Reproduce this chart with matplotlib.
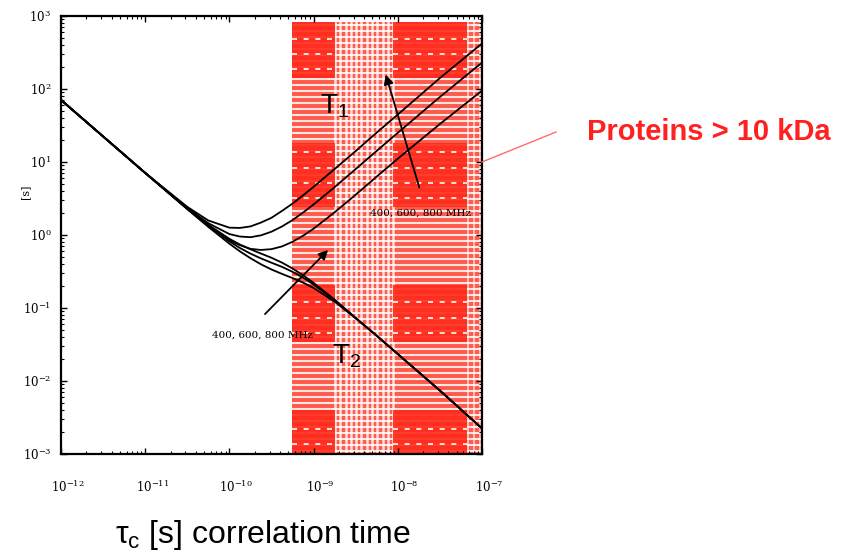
import numpy as np
import matplotlib
matplotlib.use("Agg")
import matplotlib.pyplot as plt
import matplotlib.transforms as mtransforms
from matplotlib.lines import Line2D
from matplotlib.patches import Rectangle

plt.rcParams["font.family"] = ["Liberation Sans", "DejaVu Sans"]
plt.rcParams["mathtext.fontset"] = "custom"
plt.rcParams["mathtext.rm"] = "Liberation Sans"
plt.rcParams["mathtext.it"] = "Liberation Sans:italic"
plt.rcParams["mathtext.default"] = "regular"

# correlation time [s]
tau = [1e-12, 3.16e-12, 1e-11, 3.16e-11, 5.62e-11, 1e-10, 1.33e-10, 1.78e-10,
       2.37e-10, 3.16e-10, 4.22e-10, 5.62e-10, 7.5e-10, 1e-9, 1.78e-9, 3.16e-9,
       5.62e-9, 1e-8, 3.16e-8, 1e-7]

# T1 [s] (800, 600, 400 MHz)
t1_800 = [70.8, 22.4, 7.08, 2.43, 1.58, 1.26, 1.25, 1.31, 1.48, 1.72, 2.14, 2.69,
          3.49, 4.57, 8.02, 14.1, 25.3, 44.7, 141, 420]
t1_600 = [70.8, 22.4, 7.08, 2.34, 1.45, 1.03, 0.953, 0.933, 0.989, 1.11, 1.31, 1.60,
          2.03, 2.62, 4.53, 8.0, 14.2, 25.1, 77.6, 230]
t1_400 = [70.8, 22.4, 7.08, 2.29, 1.35, 0.851, 0.726, 0.646, 0.624, 0.640, 0.698, 0.807,
          0.977, 1.22, 2.05, 3.56, 6.31, 11.1, 33.1, 95]

# T2 [s]
t2_800 = [70.8, 22.4, 7.08, 2.31, 1.38, 0.887, 0.741, 0.637, 0.557, 0.488, 0.418, 0.348,
          0.281, 0.221, 0.130, 0.0733, 0.0417, 0.0234, 0.00741, 0.00224]
t2_600 = [70.8, 22.4, 7.08, 2.28, 1.33, 0.818, 0.665, 0.556, 0.478, 0.417, 0.366, 0.313,
          0.261, 0.210, 0.128, 0.0726, 0.0417, 0.0234, 0.00741, 0.00224]
t2_400 = [70.8, 22.4, 7.08, 2.26, 1.29, 0.760, 0.598, 0.481, 0.397, 0.337, 0.293, 0.257,
          0.223, 0.188, 0.122, 0.0724, 0.0417, 0.0234, 0.00741, 0.00224]

x_ticks = [1e-12, 1e-11, 1e-10, 1e-9, 1e-8, 1e-7]
y_ticks = [1e-3, 1e-2, 1e-1, 1e0, 1e1, 1e2, 1e3]
protein_tau_min = 5.5e-10
freq_label = "400, 600, 800 MHz"

fig = plt.figure(figsize=(8.52, 5.57), dpi=100)
ax = fig.add_axes([0.0716, 0.1849, 0.4941, 0.7864])
ax.set_xscale("log")
ax.set_yscale("log")
ax.set_xlim(1e-12, 1e-7)
ax.set_ylim(1e-3, 1e3)
ax.set_xticks(x_ticks)
ax.set_yticks(y_ticks)

# red shaded region (proteins > 10 kDa) with a striped look
bt = ax.get_xaxis_transform()
red = "#ff2a1a"
ax.add_patch(Rectangle((protein_tau_min, 0), 1e-7 - protein_tau_min, 0.986,
                       transform=bt, facecolor="#ff5a4a", edgecolor="none", zorder=0))
for yy in np.arange(0.006, 0.986, 0.0137):
    ax.plot([protein_tau_min, 1e-7], [yy, yy], transform=bt, color="white",
            lw=1.5, alpha=0.85, zorder=0.5, solid_capstyle="butt")
for xx in np.logspace(np.log10(1.8e-9), np.log10(8.8e-9), 12):
    ax.plot([xx, xx], [0, 0.986], transform=bt, color="white", lw=1.8,
            alpha=0.8, zorder=0.6)
for xx in np.logspace(np.log10(6.8e-8), np.log10(9.6e-8), 3):
    ax.plot([xx, xx], [0, 0.986], transform=bt, color="white", lw=1.2,
            alpha=0.7, zorder=0.6)
block_cols = [(5.6e-10, 1.8e-9), (8.8e-9, 6.6e-8)]
block_rows = [(0.858, 0.986), (0.564, 0.710), (0.256, 0.386), (0.002, 0.100)]
for x0, x1 in block_cols:
    for y0, y1 in block_rows:
        ax.add_patch(Rectangle((x0, y0), x1 - x0, y1 - y0, transform=bt,
                               facecolor=red, edgecolor="none", alpha=0.9, zorder=0.7))
        for yy in np.arange(y0 + 0.02, y1 - 0.01, 0.035):
            ax.plot([x0, x1], [yy, yy], transform=bt, color="white", lw=1.2,
                    ls=(0, (3, 4)), zorder=0.8)

for t1 in (t1_800, t1_600, t1_400):
    ax.plot(tau, t1, color="black", lw=1.3, zorder=3)
for t2 in (t2_800, t2_600, t2_400):
    ax.plot(tau, t2, color="black", lw=1.3, zorder=3)

# labels and arrows
ax.text(1.79e-9, 58, r"$\mathrm{T_1}$", fontsize=20, ha="center", va="center", zorder=4)
ax.text(2.43e-9, 0.022, r"$\mathrm{T_2}$", fontsize=20, ha="center", va="center", zorder=4)
ax.annotate("", xy=(7.05e-9, 171), xytext=(1.84e-8, 4.13),
            arrowprops=dict(arrowstyle="-|>", color="black", lw=1.3, mutation_scale=14),
            zorder=4)
ax.annotate("", xy=(1.57e-9, 0.664), xytext=(2.51e-10, 0.0776),
            arrowprops=dict(arrowstyle="-|>", color="black", lw=1.3, mutation_scale=14),
            zorder=4)
ax.text(1.84e-8, 2.0, freq_label, fontsize=7.5, family="DejaVu Serif",
        ha="center", va="center", zorder=4)
ax.text(2.44e-10, 0.0427, freq_label, fontsize=7.5, family="DejaVu Serif",
        ha="center", va="center", zorder=4)

ax.tick_params(which="both", direction="in", top=True, right=True)
ax.tick_params(which="major", length=4, width=1, labelsize=8.5, pad=7,
               labelfontfamily="DejaVu Serif")
ax.tick_params(which="minor", length=2, width=0.8)
ax.tick_params(axis="x", which="major", pad=18)
shift = mtransforms.ScaledTranslation(7 / 100, 0, fig.dpi_scale_trans)
for lbl in ax.get_xticklabels():
    lbl.set_transform(lbl.get_transform() + shift)
for sp in ax.spines.values():
    sp.set_linewidth(1.6)

fig.text(25 / 852, 1 - 192 / 557, "[s]", rotation=90, fontsize=8,
         family="DejaVu Serif", ha="center", va="center")
fig.text(263 / 852, 1 - 535 / 557, r"$\tau_\mathrm{c}$ [s] correlation time",
         fontsize=23, ha="center", va="center")

# callout for the protein region
fig.add_artist(Line2D([482 / 852, 556 / 852], [1 - 162 / 557, 1 - 132 / 557],
                      color="#ff6a6a", lw=1))
fig.text(709 / 852, 1 - 132 / 557, "Proteins > 10 kDa", color="#ff2020",
         fontsize=21, fontweight="bold", ha="center", va="center")

fig.savefig("out.png", dpi=100)
